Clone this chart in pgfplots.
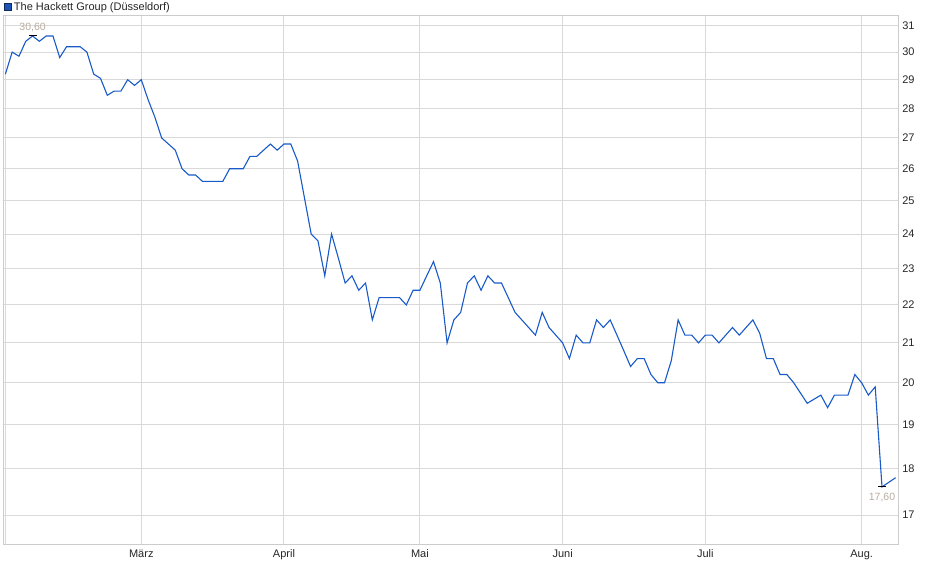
\documentclass[border=0pt]{standalone}
\usepackage{fontspec}
\setmainfont{Liberation Sans}
\usepackage{pgfplots}
\pgfplotsset{compat=1.18}
\usepackage{pgfplotstable}
\definecolor{lineblue}{RGB}{24,90,200}
\definecolor{gridgray}{RGB}{217,217,217}
\definecolor{framegray}{RGB}{204,204,204}
\definecolor{lblgray}{RGB}{184,172,160}
\definecolor{legblue}{RGB}{28,84,184}
\definecolor{legborder}{RGB}{20,40,90}
\pgfplotstableread{
i v
0 29.2
1 30.0
2 29.85
3 30.4
4 30.6
5 30.4
6 30.6
7 30.6
8 29.8
9 30.2
10 30.2
11 30.2
12 30.0
13 29.2
14 29.05
15 28.45
16 28.6
17 28.6
18 29.0
19 28.8
20 29.0
21 28.3
22 27.7
23 27.0
24 26.8
25 26.6
26 26.0
27 25.8
28 25.8
29 25.6
30 25.6
31 25.6
32 25.6
33 26.0
34 26.0
35 26.0
36 26.4
37 26.4
38 26.6
39 26.8
40 26.6
41 26.8
42 26.8
43 26.25
44 25.1
45 24.0
46 23.8
47 22.8
48 24.0
49 23.3
50 22.6
51 22.8
52 22.4
53 22.6
54 21.6
55 22.2
56 22.2
57 22.2
58 22.2
59 22.0
60 22.4
61 22.4
62 22.8
63 23.2
64 22.6
65 21.0
66 21.6
67 21.8
68 22.6
69 22.8
70 22.4
71 22.8
72 22.6
73 22.6
74 22.2
75 21.8
76 21.6
77 21.4
78 21.2
79 21.8
80 21.4
81 21.2
82 21.0
83 20.6
84 21.2
85 21.0
86 21.0
87 21.6
88 21.4
89 21.6
90 21.2
91 20.8
92 20.4
93 20.6
94 20.6
95 20.2
96 20.0
97 20.0
98 20.55
99 21.6
100 21.2
101 21.2
102 21.0
103 21.2
104 21.2
105 21.0
106 21.2
107 21.4
108 21.2
109 21.4
110 21.6
111 21.25
112 20.6
113 20.6
114 20.2
115 20.2
116 20.0
117 19.75
118 19.5
119 19.6
120 19.7
121 19.4
122 19.7
123 19.7
124 19.7
125 20.2
126 20.0
127 19.7
128 19.9
129 17.6
130 17.7
131 17.8
}\pricetable
\begin{document}
\begin{tikzpicture}
\useasboundingbox (0,0) rectangle (940bp,579bp);
\begin{axis}[
  at={(3bp,34bp)}, anchor=south west,
  scale only axis, width=895.3bp, height=529bp,
  xmin=-0.35, xmax=131.4,
  ymode=log, ymin=16.39, ymax=31.36,
  xtick={0,20,41,61,82,103,126},
  xticklabels={,März,April,Mai,Juni,Juli,Aug.},
  ytick={17,18,19,20,21,22,23,24,25,26,27,28,29,30,31},
  yticklabels={17,18,19,20,21,22,23,24,25,26,27,28,29,30,31},
  yticklabel pos=right,
  minor tick num=0,
  grid=major,
  major grid style={gridgray, line width=1bp},
  axis line style={framegray, line width=1bp},
  major tick length=0pt,
  tick label style={font=\fontsize{11bp}{13bp}\selectfont, text=black!85},
  yticklabel style={anchor=west, xshift=0.5bp},
  xticklabel style={yshift=-1bp},
  legend style={at={(0,1)}, anchor=south west, xshift=1bp, yshift=2bp,
    draw=none, fill=none, inner sep=0pt,
    font=\fontsize{11bp}{13bp}\selectfont, text=black!85,
    /tikz/every even column/.append style={column sep=2bp}},
  legend image code/.code={\draw[fill=legblue, draw=legborder, line width=0.8bp] (0bp,-3.5bp) rectangle (7bp,3.5bp);},
  legend cell align=left,
]
\addplot[lineblue, line width=1.1bp, sharp plot, mark=none] table[x=i, y=v] {\pricetable};
\addlegendentry{The Hackett Group (Düsseldorf)}
\addplot[forget plot, only marks, mark=-, mark size=4bp, mark options={black, line width=1bp}] coordinates {(4,30.6) (129,17.6)};
\node[text=lblgray, font=\fontsize{10.5bp}{12bp}\selectfont, inner sep=0pt] at ([yshift=8.5bp]axis cs:4,30.6) {30,60};
\node[text=lblgray, font=\fontsize{10.5bp}{12bp}\selectfont, inner sep=0pt] at ([yshift=-10.5bp]axis cs:129,17.6) {17,60};
\end{axis}
\end{tikzpicture}
\end{document}
